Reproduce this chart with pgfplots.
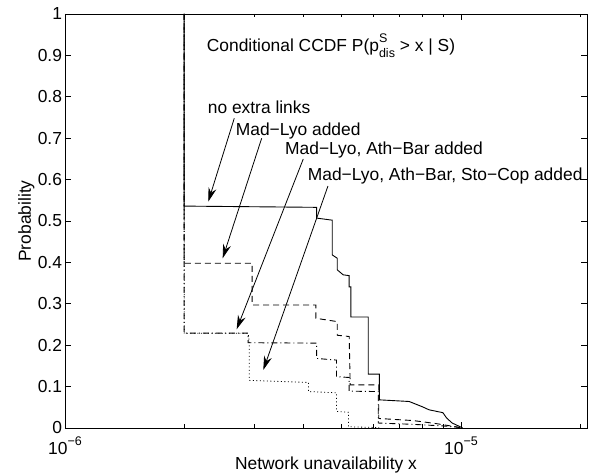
\documentclass[border=0pt]{standalone}
\usepackage{fontspec}
\setmainfont{Liberation Sans}
\usepackage{pgfplots}
\pgfplotsset{compat=1.18}
\usetikzlibrary{arrows.meta}
\newcommand\sups[1]{\raisebox{0.55em}{\fontsize{12.5pt}{14pt}\selectfont #1}}
\newcommand\subs[1]{\raisebox{-0.32em}{\fontsize{12.5pt}{14pt}\selectfont #1}}
\begin{document}
\fontsize{17.4pt}{20pt}\selectfont
\begin{tikzpicture}
\path[use as bounding box] (-65pt,-48pt) rectangle (535pt,428pt);
\begin{axis}[
  at={(0pt,0pt)}, anchor=south west,
  scale only axis, width=522pt, height=414pt,
  xmode=log, xmin=1e-6, xmax=2.08e-5, ymin=0, ymax=1,
  xtick={1e-6,1e-5}, xticklabels={10\sups{−6},10\sups{−5}},
  minor xtick={2e-6,3e-6,4e-6,5e-6,6e-6,7e-6,8e-6,9e-6,2e-5},
  ytick={0,0.1,0.2,0.3,0.4,0.5,0.6,0.7,0.8,0.9,1},
  yticklabels={0,0.1,0.2,0.3,0.4,0.5,0.6,0.7,0.8,0.9,1},
  xticklabel style={anchor=base, yshift=-27pt},
  yticklabel style={xshift=3pt},
  tick align=inside, major tick length=6pt, minor tick length=3.5pt,
  tick style={black, line width=0.6pt},
  axis line style={line width=0.8pt},
  xlabel={Network unavailability x}, ylabel={Probability},
  xlabel style={at={(axis description cs:0.5,0)}, anchor=base, yshift=-42pt},
  ylabel style={at={([xshift=-34pt]axis description cs:0,0.5)}, anchor=base},
  clip mode=individual,
]
\addplot[black, line width=0.8pt, dash pattern=on 1pt off 2.5pt] coordinates {
(2e-6,1) (2e-6,0.229) (2.9e-6,0.229) (2.92e-6,0.207) (2.92e-6,0.115)
(4.12e-6,0.11) (4.12e-6,0.088) (4.85e-6,0.085) (4.85e-6,0.04)
(5.2e-6,0.038) (5.2e-6,0.003) (6.2e-6,0.001) (6.2e-6,0)};
\addplot[black, line width=0.9pt, dash pattern=on 6pt off 3pt on 1pt off 3pt] coordinates {
(2e-6,1) (2e-6,0.229) (2.9e-6,0.229) (2.9e-6,0.206) (4.32e-6,0.205)
(4.32e-6,0.168) (4.85e-6,0.164) (4.85e-6,0.124) (5.22e-6,0.122)
(5.22e-6,0.089) (6.18e-6,0.088) (6.18e-6,0.012) (7.5e-6,0.009)
(9.0e-6,0.005) (9.8e-6,0.002) (1.0e-5,0)};
\addplot[black, line width=0.9pt, dash pattern=on 6pt off 4pt] coordinates {
(2e-6,1) (2e-6,0.398) (2.97e-6,0.398) (2.97e-6,0.297) (4.30e-6,0.297)
(4.30e-6,0.265) (4.87e-6,0.257) (4.87e-6,0.224) (5.22e-6,0.221)
(5.25e-6,0.104) (6.2e-6,0.104) (6.2e-6,0.023) (7.56e-6,0.018)
(8.6e-6,0.011) (9.7e-6,0.003) (1.0e-5,0)};
\addplot[black, line width=0.9pt] coordinates {
(2e-6,1) (2e-6,0.536) (4.32e-6,0.533) (4.32e-6,0.507) (4.73e-6,0.502)
(4.73e-6,0.418) (4.87e-6,0.41) (4.87e-6,0.382) (5.04e-6,0.37)
(5.22e-6,0.368) (5.22e-6,0.341) (5.27e-6,0.341) (5.27e-6,0.268)
(5.83e-6,0.268) (5.83e-6,0.130) (6.22e-6,0.130) (6.22e-6,0.068)
(7.4e-6,0.064) (8.0e-6,0.051) (8.3e-6,0.044) (9.0e-6,0.037)
(9.2e-6,0.024) (9.5e-6,0.012) (9.85e-6,0.005) (1.01e-5,0)};
\node[anchor=base west, inner sep=0pt] at (rel axis cs:0.2715,0.909)
  {Conditional CCDF P(p\makebox[0pt][l]{\sups{S}}\subs{dis} > x | S)};
\node[anchor=base west, inner sep=0pt] at (rel axis cs:0.2733,0.7585) {no extra links};
\node[anchor=base west, inner sep=0pt] at (rel axis cs:0.327,0.7077) {Mad−Lyo added};
\node[anchor=base west, inner sep=0pt] at (rel axis cs:0.4215,0.661) {Mad−Lyo, Ath−Bar added};
\node[anchor=base west, inner sep=0pt] at (rel axis cs:0.465,0.599) {Mad−Lyo, Ath−Bar, Sto−Cop added};
\draw[-{Stealth[length=14pt,width=8pt]}, line width=0.8pt] (rel axis cs:0.3243,0.748) -- (rel axis cs:0.2745,0.5466);
\draw[-{Stealth[length=14pt,width=8pt]}, line width=0.8pt] (rel axis cs:0.3768,0.6998) -- (rel axis cs:0.3021,0.4099);
\draw[-{Stealth[length=14pt,width=8pt]}, line width=0.8pt] (rel axis cs:0.4565,0.6498) -- (rel axis cs:0.3289,0.2384);
\draw[-{Stealth[length=14pt,width=8pt]}, line width=0.8pt] (rel axis cs:0.5038,0.5845) -- (rel axis cs:0.3799,0.1401);
\end{axis}
\end{tikzpicture}
\end{document}
